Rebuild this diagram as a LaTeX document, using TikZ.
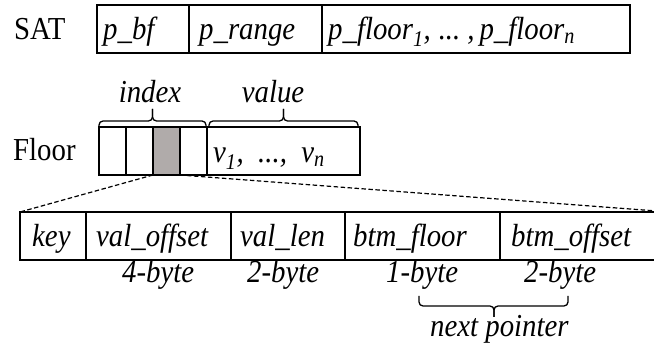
\documentclass[tikz,border=0pt]{standalone}
\usepackage{fontspec}
\setmainfont{Liberation Serif}[FakeStretch=0.9]
\usetikzlibrary{calc}
\definecolor{cellgray}{RGB}{176,171,170}
\tikzset{
  cell/.style={draw, line width=1.3pt, inner sep=0pt, outer sep=0pt, anchor=north west, minimum height=48pt},
  lbl/.style={inner sep=0pt, anchor=base west, font=\fontsize{32}{38}\selectfont},
  ilbl/.style={lbl, font=\fontsize{32}{38}\selectfont\itshape},
  brc/.style={line width=1.3pt, rounded corners=4pt},
  zoomline/.style={line width=1.2pt, dash pattern=on 4.5pt off 2.5pt}
}
\begin{document}
\begin{tikzpicture}[x=1pt,y=-1pt]
\clip (0,0) rectangle (654,347);

% SAT record
\node[lbl] (sat) at (14,40) {SAT};
\node[cell, minimum width=92pt]  (s1) at (97,5) {};
\node[cell, minimum width=133pt] (s2) at (189,5) {};
\node[cell, minimum width=308pt] (s3) at (322,5) {};
\node[ilbl] (pbf) at (103,40) {p\_bf};
\node[ilbl] (prange) at (199,40) {p\_range};
\node[ilbl] (pfloor) at (328,40) {p\_floor\textsubscript{1},\hspace{8pt}...\hspace{7pt},\hspace{5pt}p\_floor\textsubscript{n}};

% Floor: index slots and value area
\node[lbl] (floor) at (13,161) {Floor};
\node[cell, minimum width=27pt] (i1) at (99,127) {};
\node[cell, minimum width=27pt] (i2) at (126,127) {};
\node[cell, minimum width=27pt, fill=cellgray] (i3) at (153,127) {};
\node[cell, minimum width=27pt] (i4) at (180,127) {};
\node[cell, minimum width=153pt] (val) at (207,127) {};
\node[ilbl] (vals) at (213,163) {v\textsubscript{1},\ \ ...,\ \ v\textsubscript{n}};

% braces over the floor
\coordinate (ibl) at (i1.north west);
\coordinate (ibr) at ([xshift=-1pt]i4.north east);
\coordinate (ibt) at ($(ibl)!0.5!(ibr)+(0,-18)$);
\draw[brc] (ibl) -- ++(0,-6) -| (ibt);
\draw[brc] (ibr) -- ++(0,-6) -| (ibt);
\coordinate (vbl) at ([xshift=2pt]val.north west);
\coordinate (vbr) at ([xshift=-2pt]val.north east);
\coordinate (vbt) at ($(vbl)!0.5!(vbr)+(0,-18)$);
\draw[brc] (vbl) -- ++(0,-6) -| (vbt);
\draw[brc] (vbr) -- ++(0,-6) -| (vbt);
\node[ilbl, anchor=base] (index) at (150,103) {index};
\node[ilbl, anchor=base] (value) at (273,103) {value};

% index entry layout
\node[cell, minimum width=66pt]  (k)  at (20,212) {};
\node[cell, minimum width=145pt] (vo) at (86,212) {};
\node[cell, minimum width=114pt] (vl) at (231,212) {};
\node[cell, minimum width=155pt] (bf) at (345,212) {};
\node[cell, minimum width=170pt] (bo) at (500,212) {};
\node[ilbl] (tkey) at (32,247) {key};
\node[ilbl] (tvo) at (96,247) {val\_offset};
\node[ilbl] (tvl) at (240,247) {val\_len};
\node[ilbl] (tbf) at (353,247) {btm\_floor};
\node[ilbl] (tbo) at (511,247) {btm\_offset};

% zoom lines from the highlighted slot
\draw[zoomline] (i3.south west) -- (k.north west);
\draw[zoomline] (i3.south east) -- (bo.north east);

% field sizes
\node[ilbl] (s4) at (122,283) {4-byte};
\node[ilbl] (s2b) at (247,283) {2-byte};
\node[ilbl] (s1b) at (386,283) {1-byte};
\node[ilbl] (s2c) at (524,283) {2-byte};

% next pointer brace
\coordinate (nbl) at (419,296);
\coordinate (nbr) at (568,296);
\coordinate (nbt) at (494,317);
\draw[brc] (nbl) -- ++(0,10) -| (nbt);
\draw[brc] (nbr) -- ++(0,10) -| (nbt);
\node[ilbl] (np) at (430,337) {next pointer};
\end{tikzpicture}
\end{document}
